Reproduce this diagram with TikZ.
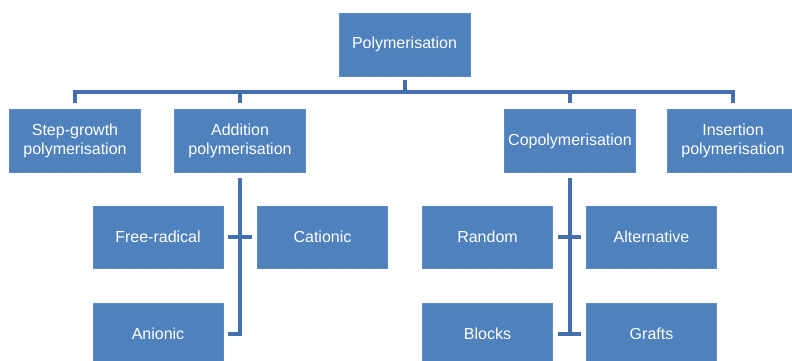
\documentclass[tikz,border=0pt]{standalone}
\usepackage{fontspec}
\setmainfont{Liberation Sans}
\usetikzlibrary{calc}
\definecolor{boxblue}{HTML}{4F81BD}
\definecolor{boxedge}{HTML}{5B8CC6}
\definecolor{lineblue}{HTML}{4471AE}
\begin{document}
\begin{tikzpicture}[x=1pt,y=-1pt,
  box/.style={fill=boxblue,draw=boxedge,line width=0.8pt,text=white,
    minimum width=131pt,minimum height=63pt,inner sep=0pt,align=center,
    font=\fontsize{16}{19}\selectfont},
  conn/.style={draw=lineblue,line width=4pt}]
\clip (0,0) rectangle (792,361);
\fill[white] (0,0) rectangle (792,361);
% nodes
\node[box] (top) at (404.5,44.5) {Polymerisation};
\node[box] (step) at (75,141) {Step-growth\\polymerisation};
\node[box] (add) at (240,141) {Addition\\polymerisation};
\node[box] (copo) at (570,141) {Copolymerisation};
\node[box] (ins) at (733,141) {Insertion\\polymerisation};
\node[box,minimum width=130pt,minimum height=62pt] (free) at (158,237) {Free-radical};
\node[box,minimum width=130pt,minimum height=62pt] (cat) at (322.5,237) {Cationic};
\node[box,minimum width=130pt,minimum height=62pt] (anio) at (158,334) {Anionic};
\node[box,minimum width=130pt,minimum height=62pt] (rand) at (487.5,237) {Random};
\node[box,minimum width=130pt,minimum height=62pt] (alt) at (651.5,237) {Alternative};
\node[box,minimum width=130pt,minimum height=62pt] (blocks) at (487.5,334) {Blocks};
\node[box,minimum width=130pt,minimum height=62pt] (grafts) at (651.5,334) {Grafts};
% top-level bus
\draw[conn] ($(top.south)+(0,4)$) -- ($(top.south)+(0,16)$);
\draw[conn] ($(step.north)+(0,-6)$) -- ($(step.north)+(0,-17)$) -- ($(ins.north)+(0,-17)$) -- ($(ins.north)+(0,-6)$);
\draw[conn] ($(add.north)+(0,-6)$) -- ($(add.north)+(0,-17)$);
\draw[conn] ($(copo.north)+(0,-6)$) -- ($(copo.north)+(0,-17)$);
% addition tree
\draw[conn] ($(add.south)+(0,5)$) -- (add.south |- anio.east) -- ($(anio.east)+(5,0)$);
\draw[conn] ($(free.east)+(5,0)$) -- ($(cat.west)+(-5,0)$);
% copolymerisation tree
\draw[conn] ($(copo.south)+(0,5)$) -- (copo.south |- blocks.east);
\draw[conn] ($(rand.east)+(5,0)$) -- ($(alt.west)+(-5,0)$);
\draw[conn] ($(blocks.east)+(5,0)$) -- ($(grafts.west)+(-5,0)$);
\end{tikzpicture}
\end{document}
